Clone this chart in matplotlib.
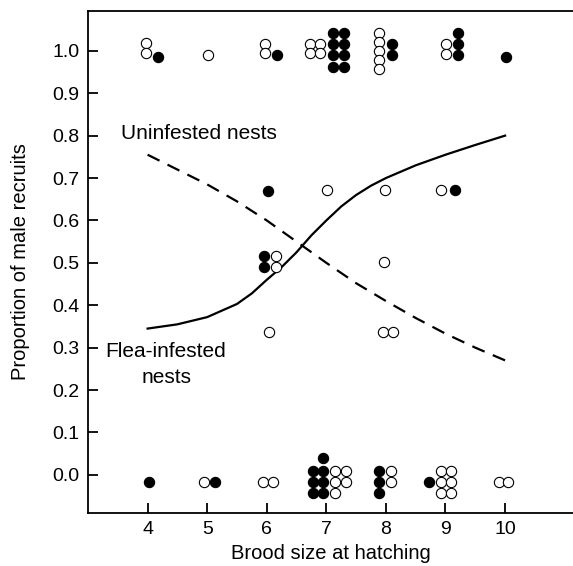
import numpy as np
import matplotlib
matplotlib.use("Agg")
import matplotlib.pyplot as plt

plt.rcParams['font.family'] = ['Liberation Sans', 'DejaVu Sans']

# fitted curves
flea_x = [4.0, 4.5, 5.0, 5.5, 5.75, 6.0, 6.25, 6.5, 6.75, 7.0, 7.25, 7.5, 7.75, 8.0, 8.5, 9.0, 9.5, 10.0]
flea_y = [0.345, 0.355, 0.372, 0.403, 0.428, 0.46, 0.49, 0.525, 0.565, 0.60, 0.633, 0.66, 0.682, 0.70,
          0.73, 0.755, 0.778, 0.80]
clean_x = [4.0, 4.5, 5.0, 5.5, 6.0, 6.5, 7.0, 7.5, 8.0, 8.5, 9.0, 9.5, 10.0]
clean_y = [0.755, 0.72, 0.685, 0.645, 0.60, 0.55, 0.50, 0.452, 0.41, 0.37, 0.333, 0.30, 0.27]

# nests, jittered as plotted: filled = flea-infested, open = uninfested
filled_x = [4.17, 6.18,
            7.11, 7.11, 7.11, 7.11, 7.29, 7.29, 7.29, 7.29,
            8.10, 8.10, 9.21, 9.21, 9.21, 10.02,
            6.02, 9.16, 5.95, 5.95,
            4.02, 5.13, 6.77, 6.77, 6.77, 6.95, 6.95, 6.95, 6.95,
            7.89, 7.89, 7.89, 8.73]
filled_y = [0.985, 0.991,
            1.042, 1.016, 0.991, 0.963, 1.042, 1.016, 0.991, 0.963,
            1.016, 0.991, 1.042, 1.016, 0.991, 0.985,
            0.670, 0.672, 0.517, 0.490,
            -0.016, -0.016, 0.009, -0.016, -0.042, 0.039, 0.009, -0.016, -0.042,
            0.009, -0.016, -0.042, -0.016]

open_x = [3.98, 3.98, 5.01, 5.97, 5.97,
          6.72, 6.72, 6.90, 6.90,
          7.89, 7.89, 7.89, 7.89, 7.89,
          9.01, 9.01,
          7.01, 7.98, 8.92, 6.15, 6.15, 7.97, 6.03, 7.95, 8.12,
          4.95, 5.93, 6.11,
          7.14, 7.14, 7.14, 7.33, 7.33,
          8.08, 8.08,
          8.92, 8.92, 8.92, 9.10, 9.10, 9.10,
          9.89, 10.05]
open_y = [1.018, 0.995, 0.991, 1.016, 0.995,
          1.016, 0.995, 1.016, 0.995,
          1.042, 1.021, 1.000, 0.979, 0.958,
          1.016, 0.992,
          0.672, 0.672, 0.672, 0.517, 0.490, 0.501, 0.337, 0.337, 0.337,
          -0.016, -0.016, -0.016,
          0.009, -0.016, -0.042, 0.009, -0.016,
          0.009, -0.016,
          0.009, -0.016, -0.042, 0.009, -0.016, -0.042,
          -0.016, -0.016]

xticks = [4, 5, 6, 7, 8, 9, 10]
yticks = [0.0, 0.1, 0.2, 0.3, 0.4, 0.5, 0.6, 0.7, 0.8, 0.9, 1.0]

fig = plt.figure(figsize=(5.73, 5.66), dpi=100)
ax = fig.add_axes([0.1536, 0.0936, 0.8464, 0.887])

ax.plot(flea_x, flea_y, color='black', lw=1.6)
ax.plot(clean_x, clean_y, color='black', lw=1.6, dashes=(6, 4))

ax.plot(filled_x, filled_y, 'o', ms=7.4, mfc='black', mec='black', mew=0.8, zorder=3)
ax.plot(open_x, open_y, 'o', ms=7.4, mfc='white', mec='black', mew=0.8, zorder=3)

ax.text(3.56, 0.792, 'Uninfested nests', fontsize=15, ha='left', va='baseline')
ax.text(4.31, 0.279, 'Flea-infested', fontsize=15, ha='center', va='baseline')
ax.text(4.31, 0.217, 'nests', fontsize=15, ha='center', va='baseline')

ax.set_xlim(3.0, 11.14)
ax.set_ylim(-0.09, 1.094)
ax.set_xticks(xticks)
ax.set_yticks(yticks)
ax.set_yticklabels(['%.1f' % v for v in yticks])
ax.tick_params(direction='in', length=7, width=1.3, labelsize=14, pad=6)

for side in ['left', 'top', 'bottom']:
    ax.spines[side].set_linewidth(1.3)
ax.spines['right'].set_visible(False)

ax.set_xlabel('Brood size at hatching', fontsize=14.5, labelpad=4)
ax.set_ylabel('Proportion of male recruits', fontsize=14.5, labelpad=16)

fig.savefig('out.png', dpi=100)
